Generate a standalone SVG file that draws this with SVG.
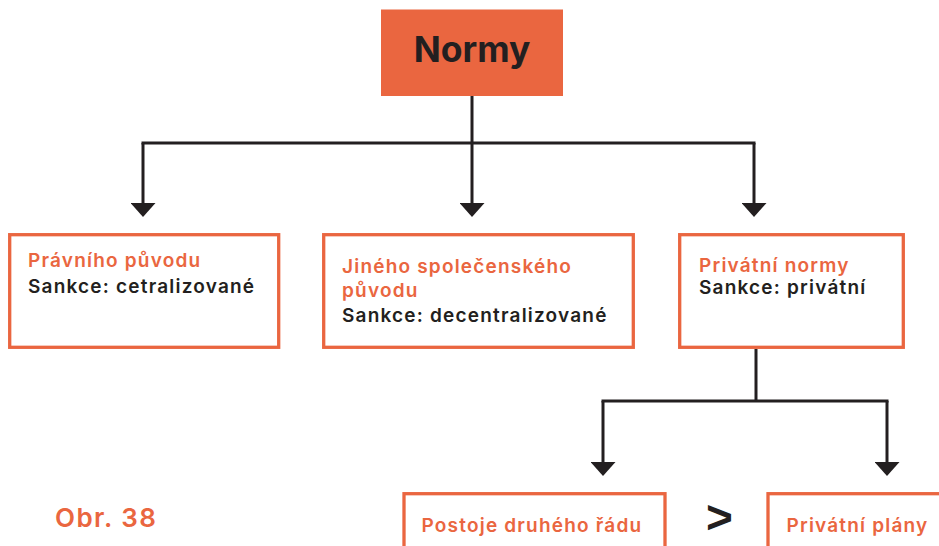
<svg xmlns="http://www.w3.org/2000/svg" width="939" height="546" viewBox="0 0 939 546">
  <style>
    .box { fill: #ffffff; stroke: #EA6640; stroke-width: 3.3; }
    .title { font-family: Inter, "Liberation Sans", sans-serif; font-weight: 700; font-size: 35.5px; fill: #231F20; }
    .head { font-family: Inter, "Liberation Sans", sans-serif; font-weight: 600; font-size: 19px; fill: #EA6640; letter-spacing: 1.2px; }
    .body { font-family: Inter, "Liberation Sans", sans-serif; font-weight: 600; font-size: 19px; fill: #231F20; letter-spacing: 1.2px; }
    .cap { font-family: Inter, "Liberation Sans", sans-serif; font-weight: 600; font-size: 26px; fill: #EA6640; letter-spacing: 1.4px; }
    .gt { font-family: "Liberation Sans", sans-serif; font-weight: 700; font-size: 46px; fill: #231F20; }
    .conn { fill: none; stroke: #231F20; stroke-width: 3; }
  </style>
  <defs>
    <marker id="arrow" markerUnits="userSpaceOnUse" markerWidth="14" markerHeight="25" refX="2" refY="12.5" orient="auto">
      <path d="M0,0 L14,12.5 L0,25 Z" fill="#231F20"/>
    </marker>
  </defs>

  <g id="connectors">
    <path class="conn" d="M472,96 V143"/>
    <path class="conn" d="M141.5,143 H755.5"/>
    <path class="conn" d="M143,143 V205" marker-end="url(#arrow)"/>
    <path class="conn" d="M472,143 V205" marker-end="url(#arrow)"/>
    <path class="conn" d="M754,143 V205" marker-end="url(#arrow)"/>
    <path class="conn" d="M756,349 V401"/>
    <path class="conn" d="M601.5,401 H888.5"/>
    <path class="conn" d="M603,401 V464" marker-end="url(#arrow)"/>
    <path class="conn" d="M887,401 V464" marker-end="url(#arrow)"/>
  </g>

  <g id="normy">
    <rect x="381" y="9.5" width="182" height="86.5" fill="#EA6640"/>
    <text class="title" x="472" y="62" text-anchor="middle">Normy</text>
  </g>

  <g id="pravniho">
    <rect class="box" x="9.7" y="234.7" width="269" height="112.6"/>
    <text class="head" x="28" y="267">Právního původu</text>
    <text class="body" x="28" y="293">Sankce: cetralizované</text>
  </g>

  <g id="jineho">
    <rect class="box" x="323.7" y="234.7" width="309.6" height="112.6"/>
    <text class="head" x="342" y="273">Jiného společenského</text>
    <text class="head" x="342" y="297">původu</text>
    <text class="body" x="342" y="322">Sankce: decentralizované</text>
  </g>

  <g id="privatni">
    <rect class="box" x="679.7" y="234.7" width="223.6" height="112.6"/>
    <text class="head" x="699" y="272">Privátní normy</text>
    <text class="body" x="699" y="294">Sankce: privátní</text>
  </g>

  <g id="postoje">
    <rect class="box" x="404" y="493.7" width="261" height="80"/>
    <text class="head" x="421.5" y="532">Postoje druhého řádu</text>
  </g>

  <text class="gt" x="706" y="533">&gt;</text>

  <g id="plany">
    <rect class="box" x="768" y="493.7" width="200" height="80"/>
    <text class="head" x="786.5" y="532">Privátní plány</text>
  </g>

  <text class="cap" x="55" y="527">Obr. 38</text>
</svg>
